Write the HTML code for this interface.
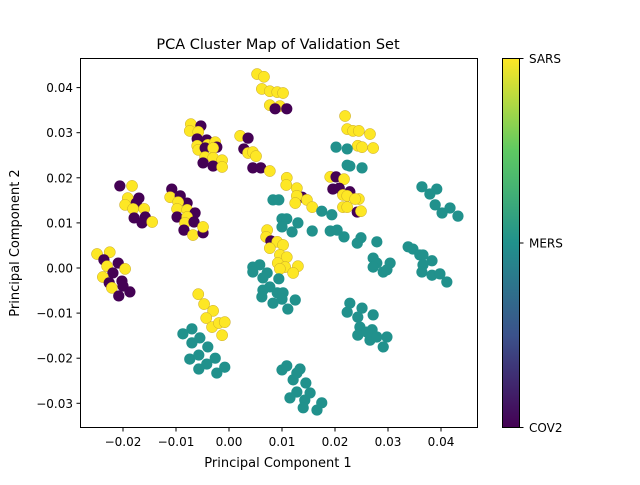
<!DOCTYPE html>
<html><head><meta charset="utf-8"><style>
body{margin:0;background:#fff;}
svg text{font-family:"DejaVu Sans","Liberation Sans",sans-serif;fill:#000;}
</style></head><body>
<svg id="chart" width="640" height="480" viewBox="0 0 640 480" xmlns="http://www.w3.org/2000/svg">
<defs><linearGradient id="vir" x1="0" y1="1" x2="0" y2="0">
<stop offset="0" stop-color="#440154"/><stop offset="0.25" stop-color="#3b528b"/><stop offset="0.5" stop-color="#21918c"/><stop offset="0.75" stop-color="#5ec962"/><stop offset="1" stop-color="#fde725"/></linearGradient></defs>
<text x="278" y="49" font-size="14.5" text-anchor="middle">PCA Cluster Map of Validation Set</text>
<g id="marks"></g>
<rect x="80.5" y="58.5" width="397" height="369" fill="none" stroke="#000" stroke-width="1"/>
<g id="axes"></g>
<text x="278" y="467" font-size="13" text-anchor="middle">Principal Component 1</text>
<text x="19" y="243" font-size="13" text-anchor="middle" transform="rotate(-90 19 243)">Principal Component 2</text>
<rect x="502.5" y="58.5" width="17" height="369" fill="url(#vir)" stroke="#000" stroke-width="1"/>
<g id="cbar"></g>
</svg>
<script>
const classNames=["COV2","MERS","SARS"];
const xs=[0.0053,0.0066,0.0062,0.0077,0.0091,0.0102,0.0077,0.0096,0.0087,0.0109,
-0.0072,-0.0074,-0.0053,-0.0058,-0.0060,-0.0042,-0.0040,-0.0026,-0.0023,-0.0060,-0.0058,-0.0045,-0.0030,-0.0045,-0.0030,-0.0013,-0.0049,-0.0030,-0.0013,
0.0021,0.0036,0.0028,0.0036,0.0045,0.0051,0.0045,0.0060,0.0077,
-0.0206,-0.0183,-0.0191,-0.0170,-0.0175,-0.0196,-0.0181,-0.0160,-0.0179,-0.0158,-0.0164,-0.0145,
-0.0108,-0.0111,-0.0092,-0.0079,-0.0096,-0.0098,-0.0079,-0.0064,-0.0098,-0.0079,-0.0083,-0.0066,-0.0085,-0.0068,-0.0049,-0.0049,
0.0219,0.0223,0.0234,0.0245,0.0266,0.0243,0.0251,0.0272,0.0202,0.0223,0.0223,0.0251,0.0228,
0.0191,0.0202,0.0217,0.0196,0.0208,0.0228,0.0215,0.0223,0.0245,0.0238,0.0215,0.0223,0.0242,0.0249,
0.0109,0.0108,0.0128,0.0138,0.0128,0.0147,0.0157,0.0125,0.0072,0.0070,0.0079,0.0091,0.0102,0.0077,0.0096,0.0109,0.0092,0.0106,0.0130,0.0121,0.0096,
0.0083,0.0094,0.0175,0.0194,0.0157,0.0100,0.0109,0.0100,0.0119,0.0130,0.0191,0.0204,0.0217,0.0249,0.0242,0.0279,0.0338,0.0347,
0.0364,0.0392,0.0379,0.0389,0.0417,0.0402,0.0432,
0.0045,0.0058,0.0072,0.0064,0.0094,0.0064,0.0077,0.0062,0.0091,0.0102,0.0083,0.0100,0.0125,0.0111,0.0045,
0.0272,0.0279,0.0272,0.0304,0.0291,0.0298,
0.0360,0.0366,0.0383,0.0366,0.0364,0.0383,0.0398,0.0411,
0.0228,0.0223,0.0251,0.0272,0.0243,0.0247,0.0270,0.0243,0.0266,0.0279,0.0298,0.0291,0.0260,
0.0100,0.0109,0.0134,0.0121,0.0128,0.0145,0.0128,0.0115,0.0153,0.0143,0.0140,0.0166,0.0175,
-0.0249,-0.0225,-0.0236,-0.0230,-0.0209,-0.0196,-0.0219,-0.0238,-0.0202,-0.0226,-0.0200,-0.0221,-0.0208,-0.0187,
-0.0058,-0.0047,-0.0030,-0.0043,-0.0032,-0.0019,-0.0008,-0.0013,
-0.0087,-0.0070,-0.0055,-0.0070,-0.0040,-0.0074,-0.0057,-0.0026,-0.0042,-0.0057,-0.0023,-0.0008];
const ys=[0.0430,0.0424,0.0397,0.0392,0.0390,0.0388,0.0361,0.0359,0.0353,0.0353,
0.0319,0.0304,0.0315,0.0302,0.0286,0.0284,0.0273,0.0279,0.0268,0.0271,0.0262,0.0266,0.0266,0.0246,0.0244,0.0239,0.0233,0.0226,0.0224,
0.0293,0.0288,0.0264,0.0255,0.0257,0.0248,0.0222,0.0222,0.0215,
0.0182,0.0182,0.0155,0.0155,0.0144,0.0140,0.0131,0.0131,0.0111,0.0113,0.0100,0.0102,
0.0175,0.0157,0.0160,0.0144,0.0146,0.0131,0.0129,0.0122,0.0113,0.0113,0.0100,0.0102,0.0084,0.0073,0.0078,0.0091,
0.0337,0.0308,0.0304,0.0304,0.0297,0.0271,0.0268,0.0266,0.0268,0.0264,0.0228,0.0222,0.0226,
0.0202,0.0202,0.0197,0.0175,0.0177,0.0169,0.0162,0.0160,0.0153,0.0153,0.0135,0.0135,0.0124,0.0126,
0.0200,0.0184,0.0177,0.0157,0.0160,0.0151,0.0135,0.0144,0.0084,0.0069,0.0060,0.0058,0.0051,0.0044,0.0029,0.0024,0.0011,0.0002,0.0004,-0.0011,-0.0002,
0.0151,0.0151,0.0126,0.0118,0.0082,0.0109,0.0109,0.0091,0.0080,0.0100,0.0082,0.0084,0.0069,0.0067,0.0055,0.0058,0.0047,0.0042,
0.0180,0.0175,0.0164,0.0140,0.0133,0.0122,0.0115,
0.0002,0.0007,-0.0011,-0.0022,-0.0024,-0.0049,-0.0042,-0.0064,-0.0055,-0.0055,-0.0078,-0.0069,-0.0071,-0.0091,-0.0009,
0.0022,0.0011,0.0002,0.0011,-0.0009,-0.0004,
0.0029,0.0029,0.0016,0.0007,-0.0009,-0.0016,-0.0013,-0.0031,
-0.0078,-0.0098,-0.0089,-0.0104,-0.0109,-0.0131,-0.0137,-0.0149,-0.0160,-0.0153,-0.0153,-0.0175,-0.0142,
-0.0226,-0.0217,-0.0224,-0.0248,-0.0233,-0.0255,-0.0275,-0.0288,-0.0277,-0.0293,-0.0310,-0.0315,-0.0299,
0.0031,0.0035,0.0018,0.0004,0.0011,-0.0002,-0.0011,-0.0020,-0.0029,-0.0033,-0.0040,-0.0044,-0.0062,-0.0053,
-0.0058,-0.0080,-0.0095,-0.0111,-0.0131,-0.0122,-0.0120,-0.0149,
-0.0146,-0.0135,-0.0155,-0.0166,-0.0175,-0.0202,-0.0193,-0.0200,-0.0213,-0.0224,-0.0233,-0.0220];
const labels=[2,2,2,2,2,2,2,2,0,0,
2,2,0,2,0,0,2,2,0,2,2,0,2,2,2,2,0,0,2,
2,0,0,2,2,2,0,0,2,
0,2,2,0,0,2,2,2,0,0,0,2,
0,2,0,0,2,2,2,0,0,2,2,0,0,2,0,2,
2,2,2,2,2,2,2,2,1,1,1,1,1,
2,0,2,0,0,0,2,2,2,2,2,2,0,2,
2,2,2,0,2,2,2,2,2,2,0,2,2,2,2,2,2,2,2,2,2,
1,1,1,1,1,1,1,1,1,1,1,1,1,1,1,1,1,1,
1,1,1,1,1,1,1,
1,1,1,1,1,1,1,1,1,1,1,1,1,1,1,
1,1,1,1,1,1,
1,1,1,1,1,1,1,1,
1,1,1,1,1,1,1,1,1,1,1,1,1,
1,1,1,1,1,1,1,1,1,1,1,1,1,
2,2,0,2,0,2,0,2,0,0,0,2,0,0,
2,2,2,2,2,2,2,2,
1,1,1,1,1,1,1,1,1,1,1,1];
const xTicks=[-0.02,-0.01,0.00,0.01,0.02,0.03,0.04];
const xTickLabels=["−0.02","−0.01","0.00","0.01","0.02","0.03","0.04"];
const yTicks=[-0.03,-0.02,-0.01,0.00,0.01,0.02,0.03,0.04];
const yTickLabels=["−0.03","−0.02","−0.01","0.00","0.01","0.02","0.03","0.04"];
const colors=["#440154","#21918c","#fde725"];
const NS="http://www.w3.org/2000/svg";
function xScale(v){return 229+v*5300;}
function yScale(v){return 268-v*4510;}
function cbScale(c){return 427.5-c*184.5;}
function mk(t,a){const e=document.createElementNS(NS,t);for(const k in a)e.setAttribute(k,a[k]);return e;}
const marks=document.getElementById('marks');
for(let i=0;i<xs.length;i++){
  const c=mk('circle',{cx:xScale(xs[i]),cy:yScale(ys[i]),r:5.6,fill:colors[labels[i]]});
  if(labels[i]===2){c.setAttribute('stroke','#c9a828');c.setAttribute('stroke-width','0.5');}
  
  
  marks.appendChild(c);
}
const axes=document.getElementById('axes');
xTicks.forEach((v,i)=>{
  const x=xScale(v);
  const l=mk('line',{x1:x,y1:427.5,x2:x,y2:431.5,stroke:'#000'});
  
  
  axes.appendChild(l);
  const t=mk('text',{x:x,y:446,'font-size':'12','text-anchor':'middle'});
  t.textContent=xTickLabels[i];
  
  
  axes.appendChild(t);
});
yTicks.forEach((v,i)=>{
  const y=yScale(v);
  const l=mk('line',{x1:76.5,y1:y,x2:80.5,y2:y,stroke:'#000'});
  
  
  axes.appendChild(l);
  const t=mk('text',{x:73,y:y+4.5,'font-size':'12','text-anchor':'end'});
  t.textContent=yTickLabels[i];
  
  
  axes.appendChild(t);
});
const cbar=document.getElementById('cbar');
classNames.forEach((n,i)=>{
  const y=cbScale(i);
  const l=mk('line',{x1:519.5,y1:y,x2:523.5,y2:y,stroke:'#000'});
  
  
  cbar.appendChild(l);
  const t=mk('text',{x:529,y:y+4.5,'font-size':'12'});
  t.textContent=n;
  
  
  cbar.appendChild(t);
});
</script>
</body></html>
